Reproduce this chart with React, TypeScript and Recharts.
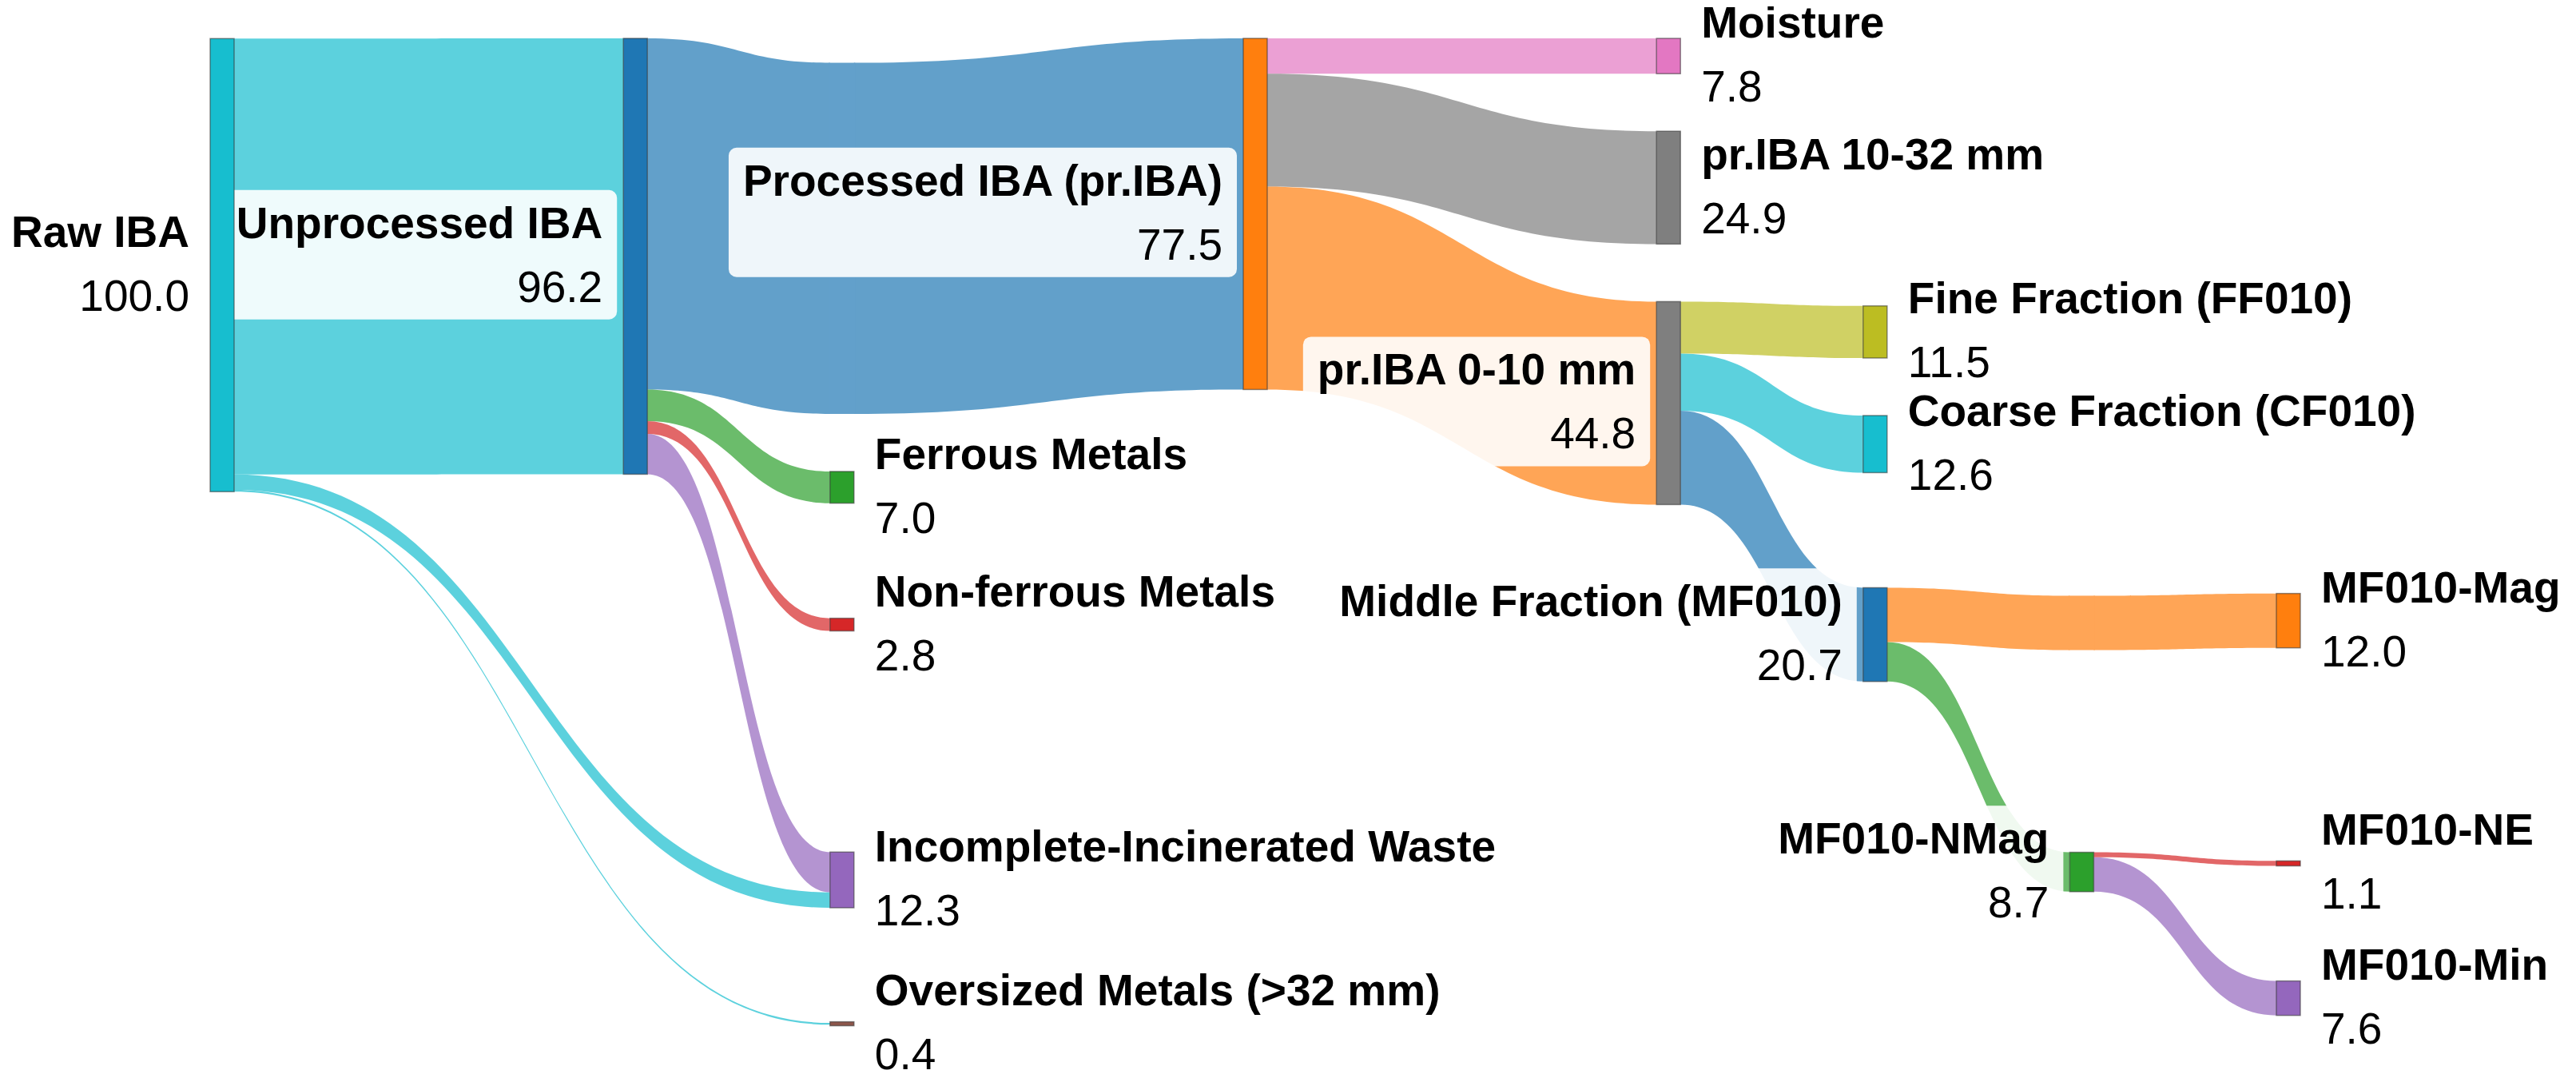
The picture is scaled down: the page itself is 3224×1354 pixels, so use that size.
import React, { useLayoutEffect, useRef, useState } from "react";
import { Sankey } from "recharts";

// IBA treatment stages, shares in % of raw IBA
const nodeNames = [
  "Raw IBA",
  "Unprocessed IBA",
  "Ferrous Metals",
  "Non-ferrous Metals",
  "Incomplete-Incinerated Waste",
  "Oversized Metals (>32 mm)",
  "Processed IBA (pr.IBA)",
  "Moisture",
  "pr.IBA 10-32 mm",
  "pr.IBA 0-10 mm",
  "Fine Fraction (FF010)",
  "Coarse Fraction (CF010)",
  "Middle Fraction (MF010)",
  "MF010-Mag",
  "MF010-NMag",
  "MF010-NE",
  "MF010-Min",
];

const nodeColors = [
  "#17becf", "#1f77b4", "#2ca02c", "#d62728", "#9467bd", "#8c564b", "#ff7f0e",
  "#e377c2", "#7f7f7f", "#7f7f7f", "#bcbd22", "#17becf", "#1f77b4", "#ff7f0e",
  "#2ca02c", "#d62728", "#9467bd",
];

const flowFrom = [
  "Raw IBA",
  "Unprocessed IBA", "Unprocessed IBA", "Unprocessed IBA", "Unprocessed IBA",
  "Raw IBA", "Raw IBA",
  "Processed IBA (pr.IBA)", "Processed IBA (pr.IBA)", "Processed IBA (pr.IBA)",
  "pr.IBA 0-10 mm", "pr.IBA 0-10 mm", "pr.IBA 0-10 mm",
  "Middle Fraction (MF010)", "Middle Fraction (MF010)",
  "MF010-NMag", "MF010-NMag",
];

const flowTo = [
  "Unprocessed IBA",
  "Processed IBA (pr.IBA)", "Ferrous Metals", "Non-ferrous Metals", "Incomplete-Incinerated Waste",
  "Incomplete-Incinerated Waste", "Oversized Metals (>32 mm)",
  "Moisture", "pr.IBA 10-32 mm", "pr.IBA 0-10 mm",
  "Fine Fraction (FF010)", "Coarse Fraction (CF010)", "Middle Fraction (MF010)",
  "MF010-Mag", "MF010-NMag",
  "MF010-NE", "MF010-Min",
];

const flowValue = [96.2, 77.5, 7.0, 2.8, 8.9, 3.4, 0.4, 7.8, 24.9, 44.8, 11.5, 12.6, 20.7, 12.0, 8.7, 1.1, 7.6];

const flowColors = [
  "#17becf",
  "#1f77b4", "#2ca02c", "#d62728", "#9467bd",
  "#17becf", "#17becf",
  "#e377c2", "#7f7f7f", "#ff7f0e",
  "#bcbd22", "#17becf", "#1f77b4",
  "#ff7f0e", "#2ca02c",
  "#d62728", "#9467bd",
];

// ---- layout helpers (never drawn) ----
// Recharts puts a node one column right of its deepest source and moves every
// end node to the last column. Hidden nodes joined by near-zero links keep each
// stage in its own column, "band" nodes carry a long flow through a column, and
// hidden reserve flows fill four columns so that they stay at the top.
const PLOT_H = 1254;
const PAD = 72;
const SCALE = 5.67; // px per %
const TINY = 1e-6;
const FAINT = 1e-9;
const outflow = (n: string) => flowValue.reduce((s, v, i) => (flowFrom[i] === n ? s + v : s), 0);
const fillColumn = (used: number, count: number) => (PLOT_H - (count - 1) * PAD) / SCALE - used;
const BASE = fillColumn(outflow("Raw IBA"), 2) - 0.05;
const HOLD2 = fillColumn(outflow("Unprocessed IBA"), 2);
const HOLD5 = fillColumn(outflow("Processed IBA (pr.IBA)"), 2);
const RESERVE = fillColumn(outflow("Processed IBA (pr.IBA)"), 4);

const layoutOrder = [
  "~c1",
  "Unprocessed IBA",
  "~hold2",
  "~band3",
  "Ferrous Metals",
  "~gap3a",
  "Non-ferrous Metals",
  "~low3",
  "Incomplete-Incinerated Waste",
  "~gap3b",
  "Oversized Metals (>32 mm)",
  "~c4",
  "Processed IBA (pr.IBA)",
  "~hold5",
  "~c6",
  "Moisture",
  "pr.IBA 10-32 mm",
  "pr.IBA 0-10 mm",
  "~reserve",
  "Fine Fraction (FF010)",
  "Coarse Fraction (CF010)",
  "~gap8",
  "Middle Fraction (MF010)",
  "~band9",
  "~low9",
  "MF010-NMag",
  "~top10",
  "MF010-Mag",
  "~low10",
  "MF010-NE",
  "~gap10",
  "MF010-Min",
  "Raw IBA",
  "~base",
];

const bands = [
  { via: "~band3", from: "Unprocessed IBA", to: "Processed IBA (pr.IBA)" },
  { via: "~band9", from: "Middle Fraction (MF010)", to: "MF010-Mag" },
];

const helperLinks: [string, string, number][] = [
  // columns 0-2
  ["Raw IBA", "~c1", TINY],
  ["~base", "~c1", BASE],
  ["~c1", "Unprocessed IBA", TINY],
  ["~c1", "~hold2", HOLD2],
  ["~hold2", "~c4", TINY],
  // column 3
  ["Unprocessed IBA", "~gap3a", TINY],
  ["~gap3a", "~c4", TINY],
  ["~base", "~low3", TINY],
  ["Unprocessed IBA", "~low3", FAINT],
  ["~low3", "~low9", FAINT],
  ["Unprocessed IBA", "~gap3b", TINY],
  ["~gap3b", "~c4", TINY],
  ["Unprocessed IBA", "Oversized Metals (>32 mm)", TINY],
  ["Ferrous Metals", "~top10", FAINT],
  ["Non-ferrous Metals", "~top10", FAINT],
  ["Incomplete-Incinerated Waste", "~top10", FAINT],
  ["Oversized Metals (>32 mm)", "~top10", FAINT],
  // columns 4-7
  ["~c4", "Processed IBA (pr.IBA)", TINY],
  ["~c4", "~hold5", HOLD5],
  ["~hold5", "~c6", TINY],
  ["Processed IBA (pr.IBA)", "~c6", TINY],
  ["~c6", "Moisture", TINY],
  ["~c6", "pr.IBA 10-32 mm", TINY],
  ["~c6", "pr.IBA 0-10 mm", TINY],
  ["~c6", "~reserve", RESERVE],
  ["Moisture", "Fine Fraction (FF010)", TINY],
  ["pr.IBA 10-32 mm", "Fine Fraction (FF010)", TINY],
  ["~reserve", "Fine Fraction (FF010)", TINY],
  // columns 8-10
  ["pr.IBA 0-10 mm", "~gap8", TINY],
  ["Raw IBA", "~top10", TINY],
  ["Fine Fraction (FF010)", "~top10", FAINT],
  ["Coarse Fraction (CF010)", "~top10", FAINT],
  ["~gap8", "~top10", FAINT],
  ["~base", "~low9", TINY],
  ["Middle Fraction (MF010)", "~low9", FAINT],
  ["~low9", "~low10", FAINT],
  ["~base", "~low10", TINY],
  ["~base", "~gap10", TINY],
];

type Flow = { source: number; target: number; value: number; color?: string; hidden?: boolean };

const idx = (name: string) => layoutOrder.indexOf(name);
const sankeyNodes = layoutOrder.map((name) => ({ name }));
const sankeyLinks: Flow[] = [];
flowFrom.forEach((from, i) => {
  const band = bands.find((b) => b.from === from && b.to === flowTo[i]);
  const color = flowColors[i];
  if (band) {
    sankeyLinks.push({ source: idx(from), target: idx(band.via), value: flowValue[i], color });
    sankeyLinks.push({ source: idx(band.via), target: idx(flowTo[i]), value: flowValue[i], color });
  } else {
    sankeyLinks.push({ source: idx(from), target: idx(flowTo[i]), value: flowValue[i], color });
  }
});
helperLinks.forEach(([a, b, v]) => sankeyLinks.push({ source: idx(a), target: idx(b), value: v, hidden: true }));

const FONT = "'Liberation Sans', Arial, Helvetica, sans-serif";
const FLOW_OPACITY = 0.7;
const LABEL_GAP = 26;

// flow colour laid on white, so a band piece can overlap the flows without a seam
const onWhite = (hex: string) => {
  const c = [1, 3, 5].map((p) => parseInt(hex.slice(p, p + 2), 16));
  const m = c.map((v) => Math.round(255 - FLOW_OPACITY * (255 - v)));
  return `rgb(${m[0]},${m[1]},${m[2]})`;
};

const bandColor = (via: string) => {
  const b = bands.find((x) => x.via === via);
  if (!b) return null;
  const i = flowFrom.findIndex((f, k) => f === b.from && flowTo[k] === b.to);
  return onWhite(flowColors[i]);
};

function NodeLabel({ x, cy, anchor, name, value, boxed }: {
  x: number; cy: number; anchor: "start" | "end"; name: string; value: string; boxed: boolean;
}) {
  const ref = useRef<SVGGElement>(null);
  const [box, setBox] = useState<{ x: number; y: number; w: number; h: number } | null>(null);
  useLayoutEffect(() => {
    if (!boxed || !ref.current) return;
    const b = ref.current.getBBox();
    setBox((p) =>
      p && p.x === b.x && p.y === b.y && p.w === b.width && p.h === b.height
        ? p
        : { x: b.x, y: b.y, w: b.width, h: b.height }
    );
  });
  return (
    <g>
      {boxed && box && (
        <rect x={box.x - 18} y={box.y - 10} width={box.w + 36} height={box.h + 20} rx={10} ry={10}
          fill="#ffffff" fillOpacity={0.9} />
      )}
      <g ref={ref} fontFamily={FONT} fontSize={55} fill="#000">
        <text x={x} y={cy - 23} textAnchor={anchor} fontWeight="bold">{name}</text>
        <text x={x} y={cy + 57} textAnchor={anchor}>{value}</text>
      </g>
    </g>
  );
}

const renderNode = (props: any) => {
  const { x, y, width, height, payload } = props;
  const name: string = payload?.name ?? layoutOrder[props.index];
  const bc = bandColor(name);
  if (bc) {
    return <rect x={x - 1.5} y={y} width={width + 3} height={height} fill={bc} />;
  }
  const k = nodeNames.indexOf(name);
  if (k < 0) return <g />;
  const h = Math.max(height, 5);
  const cy = y + height / 2;
  const isEnd = !flowFrom.includes(name);
  return (
    <g>
      <rect x={x} y={cy - h / 2} width={width} height={h} fill={nodeColors[k]}
        stroke="#333" strokeOpacity={0.55} strokeWidth={1.5} />
      <NodeLabel
        x={isEnd ? x + width + LABEL_GAP : x - LABEL_GAP}
        cy={cy}
        anchor={isEnd ? "start" : "end"}
        name={name}
        value={Number(payload.value).toFixed(1)}
        boxed={!isEnd}
      />
    </g>
  );
};

const renderLink = (props: any) => {
  const { sourceX, targetX, sourceY, targetY, sourceControlX, targetControlX, linkWidth, index, payload } = props;
  const link = sankeyLinks[index] ?? payload;
  if (!link || link.hidden) return <g />;
  const w = Math.max(linkWidth, 1.5) / 2;
  const d =
    `M${sourceX},${sourceY - w} C${sourceControlX},${sourceY - w} ${targetControlX},${targetY - w} ${targetX},${targetY - w}` +
    ` L${targetX},${targetY + w} C${targetControlX},${targetY + w} ${sourceControlX},${sourceY + w} ${sourceX},${sourceY + w} Z`;
  return <path d={d} fill={link.color} fillOpacity={FLOW_OPACITY} stroke="none" />;
};

export default function App() {
  return (
    <div style={{ width: 3208, height: 1338, background: "#fff" }}>
      <style>{"svg { overflow: visible; }"}</style>
      <Sankey
        width={3208}
        height={1338}
        data={{ nodes: sankeyNodes, links: sankeyLinks }}
        nodeWidth={30}
        nodePadding={PAD}
        iterations={300}
        sort={false}
        linkCurvature={0.5}
        margin={{ top: 40, right: 337, bottom: 1338 - 40 - PLOT_H, left: 255 }}
        node={renderNode}
        link={renderLink}
      />
    </div>
  );
}
